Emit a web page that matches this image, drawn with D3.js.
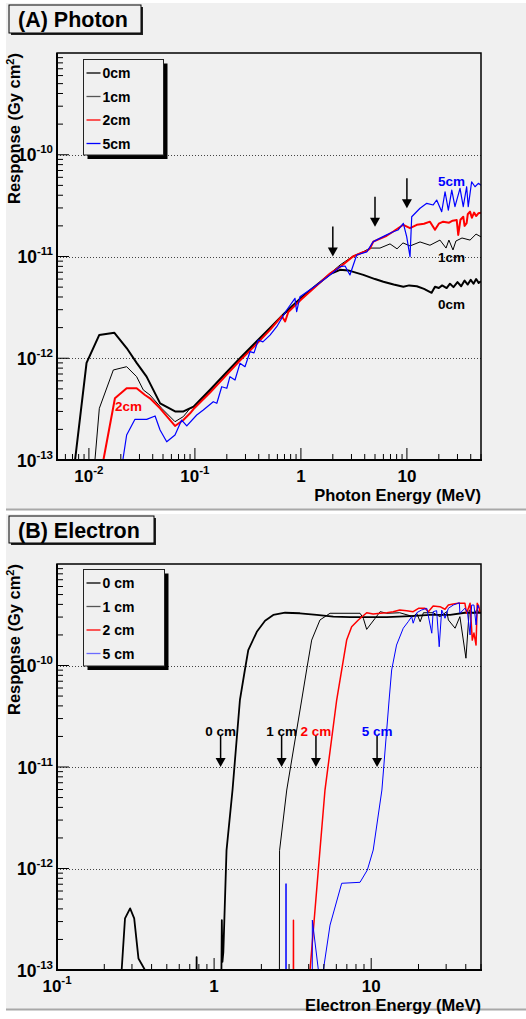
<!DOCTYPE html>
<html><head><meta charset="utf-8">
<script src="https://cdn.jsdelivr.net/npm/d3@7"></script>
<style>
body{margin:0;background:#fff}
svg{display:block}
text{font-family:"Liberation Sans",Arial,Helvetica,sans-serif;font-weight:bold}
</style>
</head><body>
<svg id="c" width="526" height="1019"></svg>
<script>
// ---------------- DATA (energy in MeV, response in Gy cm^2) ----------------
const photonSeriesNames = ["0cm","1cm","2cm","5cm"];
const electronSeriesNames = ["0 cm","1 cm","2 cm","5 cm"];

const photon0cm = [[0.0074,1.0e-13],[0.0095,9.0e-13],[0.0125,1.69e-12],[0.0174,1.78e-12],[0.0227,1.26e-12],[0.0282,9.0e-13],[0.035,6.6e-13],[0.047,3.6e-13],[0.065,3.0e-13],[0.078,3.0e-13],[0.097,3.35e-13],[0.139,4.9e-13],[0.192,7.0e-13],[0.266,1.0e-12],[0.369,1.41e-12],[0.511,1.98e-12],[0.708,2.8e-12],[1.0,3.9e-12],[1.36,5.1e-12],[1.88,6.7e-12],[2.34,7.4e-12],[2.8,7.3e-12],[3.88,6.6e-12],[5.0,6.0e-12],[6.0,5.65e-12],[7.5,5.3e-12],[9.25,5.05e-12],[10.5,5.2e-12],[12.4,5.1e-12],[14.5,4.8e-12],[17.1,4.4e-12],[18.4,5.05e-12],[20,4.9e-12],[21.5,5.2e-12],[23.7,4.9e-12],[25.5,5.4e-12],[27.5,5.0e-12],[30,5.6e-12],[32.5,5.1e-12],[35,5.8e-12],[37.5,5.3e-12],[40,5.9e-12],[42.5,5.4e-12],[45,6.0e-12],[47.5,5.5e-12],[50,5.7e-12]];
const photon1cm = [[0.0114,1.0e-13],[0.01254,3.22e-13],[0.0170,7.67e-13],[0.0227,8.26e-13],[0.0282,6.59e-13],[0.0326,4.88e-13],[0.0377,4.35e-13],[0.0486,3.22e-13],[0.0649,2.38e-13],[0.0778,2.67e-13],[0.090,3.22e-13],[0.097,3.3e-13],[0.139,4.8e-13],[0.192,6.9e-13],[0.266,9.8e-13],[0.369,1.39e-12],[0.511,1.95e-12],[0.708,2.75e-12],[1.0,3.85e-12],[1.36,5.0e-12],[1.88,6.8e-12],[2.34,8.25e-12],[3.10,1.01e-11],[3.85,1.107e-11],[4.48,1.21e-11],[5.57,1.21e-11],[6.93,1.33e-11],[8.07,1.19e-11],[9.18,1.36e-11],[10.7,1.27e-11],[13.3,1.39e-11],[16.5,1.29e-11],[20.5,1.45e-11],[23.4,1.21e-11],[24.9,1.45e-11],[27.2,1.16e-11],[29.0,1.42e-11],[33.1,1.52e-11],[39.4,1.45e-11],[44.9,1.66e-11],[50,1.56e-11]];
const photon2cm = [[0.0137,1.0e-13],[0.0176,4.04e-13],[0.0227,5.07e-13],[0.0282,5.07e-13],[0.0338,4.35e-13],[0.0377,4.04e-13],[0.0469,3.22e-13],[0.0649,2.16e-13],[0.0778,2.47e-13],[0.090,2.88e-13],[0.097,3.17e-13],[0.139,4.6e-13],[0.192,6.6e-13],[0.266,9.5e-13],[0.369,1.33e-12],[0.511,1.9e-12],[0.66,2.6e-12],[0.71,2.3e-12],[0.76,2.85e-12],[1.0,3.75e-12],[1.36,5.0e-12],[1.88,6.8e-12],[2.34,7.9e-12],[3.10,1.0e-11],[3.85,1.1e-11],[4.18,1.13e-11],[4.48,1.2e-11],[4.82,1.4e-11],[6.44,1.6e-11],[7.44,1.76e-11],[9.25,2.05e-11],[10.7,1.9e-11],[12.4,2.05e-11],[14.5,2.1e-11],[16.5,2.2e-11],[18.4,1.83e-11],[20,2.1e-11],[22.0,2.2e-11],[25,2.15e-11],[27,2.25e-11],[29.5,2.28e-11],[30.5,1.63e-11],[32,2.3e-11],[34.0,2.46e-11],[35,2.0e-11],[36.6,2.13e-11],[37.5,2.6e-11],[39.4,2.76e-11],[41,2.4e-11],[43,2.7e-11],[45,2.5e-11],[47.2,2.66e-11],[50,2.7e-11]];
const photon5cm = [[0.0209,1.0e-13],[0.0227,1.76e-13],[0.0272,2.51e-13],[0.0351,2.51e-13],[0.0421,2.71e-13],[0.0469,1.97e-13],[0.0542,1.51e-13],[0.0649,1.76e-13],[0.0750,2.47e-13],[0.0838,2.16e-13],[0.104,2.77e-13],[0.120,3.10e-13],[0.149,3.74e-13],[0.161,3.61e-13],[0.179,5.25e-13],[0.200,5.07e-13],[0.214,6.59e-13],[0.239,6.11e-13],[0.266,8.92e-13],[0.297,8.26e-13],[0.331,1.16e-12],[0.361,1.13e-12],[0.396,1.51e-12],[0.438,1.45e-12],[0.511,1.69e-12],[0.591,2.04e-12],[0.735,2.98e-12],[0.879,3.88e-12],[0.912,2.87e-12],[0.98,4.03e-12],[1.41,5.25e-12],[1.88,6.58e-12],[2.34,7.94e-12],[2.61,8.06e-12],[2.90,6.58e-12],[3.36,1.035e-11],[4.18,1.11e-11],[4.82,1.40e-11],[6.44,1.63e-11],[7.44,1.75e-11],[8.24,1.82e-11],[9.25,2.12e-11],[9.95,1.57e-11],[10.7,9.95e-12],[11.1,2.46e-11],[13.3,2.98e-11],[15.4,3.33e-11],[17.7,3.21e-11],[19.1,3.59e-11],[21.3,2.76e-11],[22.9,4.33e-11],[24.6,2.86e-11],[26.5,4.50e-11],[28.4,3.09e-11],[31.7,4.68e-11],[34.0,3.09e-11],[36.6,4.85e-11],[37.9,3.09e-11],[40.8,5.43e-11],[43.9,4.85e-11],[47.2,5.24e-11],[50,5.0e-11]];

const electron0cm = [[0.24,1e-14],[0.258,1e-13],[0.271,3.23e-13],[0.292,4.05e-13],[0.310,3.23e-13],[0.330,1.30e-13],[0.363,1e-13],[0.38,1e-14],[0.77,1e-14],[0.774,1.34e-13],[0.778,1e-14],[1.10,1e-14],[1.12,3.1e-13],[1.13,1.2e-13],[1.145,1.5e-13],[1.20,1.52e-12],[1.31,5.93e-12],[1.46,4.57e-11],[1.57,9.03e-11],[1.65,1.42e-10],[1.87,2.15e-10],[2.11,2.76e-10],[2.38,3.15e-10],[2.83,3.31e-10],[3.52,3.27e-10],[4.50,3.15e-10],[5.74,3.03e-10],[7.33,2.99e-10],[9.36,2.99e-10],[12.6,2.99e-10],[17.7,3.07e-10],[23.7,3.15e-10],[31.8,3.15e-10],[39.5,3.31e-10],[47.9,3.31e-10],[50,3.3e-10]];
const electron1cm = [[2.60,1e-14],[2.61,1.5e-12],[2.90,5.93e-12],[3.61,4.57e-11],[3.88,9.03e-11],[4.18,1.78e-10],[4.72,2.81e-10],[5.47,3.27e-10],[8.49,3.27e-10],[8.91,2.92e-10],[9.36,2.27e-10],[10.6,2.92e-10],[11.4,3.39e-10],[12.6,3.27e-10],[15.2,3.31e-10],[18.5,3.03e-10],[19.5,3.27e-10],[20.5,2.70e-10],[21.5,3.31e-10],[24.8,3.31e-10],[27.4,3.03e-10],[30.3,3.39e-10],[31.0,2.81e-10],[34.2,2.33e-10],[36.7,3.03e-10],[40.1,1.18e-10],[42.1,3.52e-10],[44.7,3.27e-10],[47.0,3.52e-10],[49.3,3.35e-10]];
const electron2cm = [[3.19,1e-14],[3.20,3.1e-13],[3.21,1e-14],[4.07,1e-14],[4.08,1e-13],[4.72,1.52e-12],[5.08,5.93e-12],[6.03,4.57e-11],[6.49,9.03e-11],[6.98,1.78e-10],[7.51,2.41e-10],[8.28,2.81e-10],[9.36,3.31e-10],[10.3,3.22e-10],[11.4,3.27e-10],[12.6,3.31e-10],[13.8,3.39e-10],[15.2,3.52e-10],[16.8,3.47e-10],[18.5,3.39e-10],[20.0,3.66e-10],[22.0,3.66e-10],[23.1,3.39e-10],[24.8,3.86e-10],[27.4,3.80e-10],[29.5,3.58e-10],[31.0,3.94e-10],[33.3,4.04e-10],[35.8,4.10e-10],[39.5,4.10e-10],[40.5,3.27e-10],[42.6,4.10e-10],[44.0,1.78e-10],[45.1,2.09e-10],[46.5,1.59e-10],[47.3,4.10e-10],[48.3,3.86e-10],[49.3,3.35e-10]];
const electron5cm = [[2.86,1e-14],[2.87,7.1e-13],[2.88,1e-14],[4.21,1e-14],[4.22,3.1e-13],[4.61,1e-13],[4.62,1e-14],[4.95,1e-14],[4.96,1e-13],[5.47,2.77e-13],[6.49,7.15e-13],[8.49,7.31e-13],[9.45,9.66e-13],[10.3,1.52e-12],[11.7,5.93e-12],[13.0,4.57e-11],[13.5,9.03e-11],[14.5,1.59e-10],[16.0,2.33e-10],[17.2,2.70e-10],[18.1,3.03e-10],[18.5,2.61e-10],[19.5,3.31e-10],[20.9,3.52e-10],[22.6,3.66e-10],[24.3,2.08e-10],[24.8,3.39e-10],[26.1,3.47e-10],[27.1,1.53e-10],[28.1,3.52e-10],[29.5,2.92e-10],[31.0,3.66e-10],[33.3,3.94e-10],[36.4,4.16e-10],[36.7,3.27e-10],[39.5,3.66e-10],[41.0,3.35e-10],[42.6,2.0e-10],[43.6,3.94e-10],[45.1,3.94e-10],[46.5,2.51e-10],[47.6,3.94e-10],[48.6,3.66e-10]];

// axis ranges and tick labels
const photonEnergyRange = [0.005, 50];
const electronEnergyRange = [0.1, 50];
const responseRange = [1e-13, 1e-9];
const photonXTicks = [[0.01,"10","-2"],[0.1,"10","-1"],[1,"1",""],[10,"10",""]];
const electronXTicks = [[0.1,"10","-1"],[1,"1",""],[10,"10",""]];
const yTicks = [[1e-13,"-13"],[1e-12,"-12"],[1e-11,"-11"],[1e-10,"-10"]];

// annotations (data coordinates)
const photonArrows = [[2,1.0e-11],[5,1.96e-11],[10,2.98e-11]];
const photonCurveLabels = [["5cm",19.6,4.93e-11,"#0000ff"],["1cm",19.6,8.93e-12,"#000000"],["0cm",19.6,3.05e-12,"#000000"],["2cm",0.0176,3.03e-13,"#ff0000"]];
const electronArrows = [["0 cm",1.10,1e-11,"#000000"],["1 cm",2.69,1e-11,"#000000"],["2 cm",4.45,1e-11,"#ff0000"],["5 cm",10.9,1e-11,"#0000ff"]];

// ---------------- DRAWING ----------------
const svg = d3.select("#c");

function panel(p){
  const g = svg.append("g");
  g.append("rect").attr("x",6).attr("y",p.padY).attr("width",520).attr("height",p.padH).attr("fill","#f0f0f0");
  g.append("line").attr("x1",6).attr("x2",526).attr("y1",p.padY+p.padH+0.5).attr("y2",p.padY+p.padH+0.5).attr("stroke","#a8a8a8").attr("stroke-width",2);

  const L=57,R=481,T=p.top,B=p.bottom;
  const x = d3.scaleLog().domain(p.xDomain).range([L,R]);
  const y = d3.scaleLog().domain(responseRange).range([B,T]);

  [1e-12,1e-11,1e-10].forEach(v=>{
    g.append("line").attr("x1",L).attr("x2",R).attr("y1",Math.round(y(v))+0.5).attr("y2",Math.round(y(v))+0.5)
     .attr("stroke","#444").attr("stroke-width",1).attr("stroke-dasharray","1,2");
  });

  const cid = "clip"+p.id;
  svg.append("clipPath").attr("id",cid).append("rect").attr("x",L).attr("y",T).attr("width",R-L).attr("height",B-T);
  const cg = g.append("g").attr("clip-path",`url(#${cid})`);
  const line = d3.line().x(d=>x(d[0])).y(d=>y(d[1]));
  p.series.forEach(s=>{
    cg.append("path").attr("d",line(s.data)).attr("fill","none").attr("stroke",s.color)
      .attr("stroke-width",s.w).attr("stroke-linejoin","round");
  });

  g.append("rect").attr("x",L).attr("y",T).attr("width",R-L).attr("height",B-T).attr("fill","none").attr("stroke","#000").attr("stroke-width",1.5);
  g.append("line").attr("x1",L).attr("x2",L).attr("y1",T).attr("y2",B+1).attr("stroke","#000").attr("stroke-width",2);
  g.append("line").attr("x1",L-1).attr("x2",R+1).attr("y1",B).attr("y2",B).attr("stroke","#000").attr("stroke-width",2);

  for(let e=-13;e<=-10;e++){
    for(let k=1;k<=9;k++){
      const v=k*Math.pow(10,e);
      const yy=y(v);
      if(yy<T-0.5||yy>B+0.5) continue;
      const len = k===1?12:6;
      g.append("line").attr("x1",L).attr("x2",L+len).attr("y1",yy).attr("y2",yy).attr("stroke","#000").attr("stroke-width",1);
    }
  }
  const lo=Math.floor(Math.log10(p.xDomain[0])), hi=Math.ceil(Math.log10(p.xDomain[1]));
  for(let e=lo;e<=hi;e++){
    for(let k=1;k<=9;k++){
      const v=k*Math.pow(10,e);
      if(v<p.xDomain[0]*0.999||v>p.xDomain[1]*1.001) continue;
      const xx=x(v);
      const len=k===1?12:6;
      g.append("line").attr("x1",xx).attr("x2",xx).attr("y1",B).attr("y2",B-len).attr("stroke","#000").attr("stroke-width",1);
    }
  }
  yTicks.forEach(([v,ex])=>{
    const t=g.append("text").attr("x",53).attr("y",y(v)+6.5).attr("text-anchor","end").attr("font-size",17.5);
    t.append("tspan").text("10");
    t.append("tspan").attr("dy",-8).attr("font-size",11.5).text(ex);
  });
  p.xTicks.forEach(([v,base,ex])=>{
    const t=g.append("text").attr("x",x(v)).attr("y",B+22).attr("text-anchor","middle").attr("font-size",17);
    t.append("tspan").text(base);
    if(ex) t.append("tspan").attr("dy",-8).attr("font-size",11.5).text(ex);
  });
  g.append("text").attr("x",R).attr("y",B+40.5).attr("text-anchor","end").attr("font-size",16.5).text(p.xTitle);
  const yt=g.append("text").attr("transform",`translate(20,${T}) rotate(-90)`).attr("text-anchor","end").attr("font-size",16.5);
  yt.append("tspan").text("Response (Gy cm");
  yt.append("tspan").attr("dy",-6).attr("font-size",11).text("2");
  yt.append("tspan").attr("dy",6).text(")");

  const tb=p.titleBox;
  g.append("rect").attr("x",tb[0]+2).attr("y",tb[1]+2).attr("width",tb[2]).attr("height",tb[3]).attr("fill","#222");
  g.append("rect").attr("x",tb[0]).attr("y",tb[1]).attr("width",tb[2]).attr("height",tb[3]).attr("fill","#f0f0f0").attr("stroke","#000").attr("stroke-width",1);
  g.append("text").attr("x",tb[0]+9).attr("y",tb[1]+21.5).attr("font-size",21.5).text(p.title);

  const lg=p.legend;
  g.append("rect").attr("x",lg.x+4).attr("y",lg.y+4).attr("width",lg.w).attr("height",lg.h).attr("fill","#000");
  g.append("rect").attr("x",lg.x).attr("y",lg.y).attr("width",lg.w).attr("height",lg.h).attr("fill","#f0f0f0").attr("stroke","#222").attr("stroke-width",1);
  lg.names.forEach((n,i)=>{
    const yy=lg.y+13.5+i*23.5;
    g.append("line").attr("x1",lg.x+3).attr("x2",lg.x+17).attr("y1",yy).attr("y2",yy).attr("stroke",lg.colors[i]).attr("stroke-width",1.3);
    g.append("text").attr("x",lg.x+19).attr("y",yy+5).attr("font-size",14).text(n);
  });
  return {g,x,y};
}

function arrow(g,xx,tipY,len){
  g.append("line").attr("x1",xx).attr("x2",xx).attr("y1",tipY-len).attr("y2",tipY-7).attr("stroke","#000").attr("stroke-width",1.5);
  g.append("path").attr("d",`M${xx-5},${tipY-9}L${xx+5},${tipY-9}L${xx},${tipY}Z`).attr("fill","#000");
}

const A = panel({
  id:"A", padY:3, padH:506, top:53, bottom:460, xDomain:photonEnergyRange, xTicks:photonXTicks,
  xTitle:"Photon Energy (MeV)", title:"(A) Photon", titleBox:[9,5,132,28],
  legend:{x:83.5,y:59.5,w:80,h:95.5,names:photonSeriesNames,colors:["#000","#555","#f00","#00f"]},
  series:[
    {data:photon0cm,color:"#000",w:2},
    {data:photon1cm,color:"#000",w:1},
    {data:photon2cm,color:"#ff0000",w:2},
    {data:photon5cm,color:"#0000ff",w:1.2}
  ]
});
photonArrows.forEach(([e,r])=>arrow(A.g,A.x(e),A.y(r),30));
photonCurveLabels.forEach(([t,e,r,c])=>{
  A.g.append("text").attr("x",A.x(e)).attr("y",A.y(r)).attr("font-size",13.5).attr("fill",c).text(t);
});

const Bp = panel({
  id:"B", padY:514, padH:495, top:564, bottom:970, xDomain:electronEnergyRange, xTicks:electronXTicks,
  xTitle:"Electron Energy (MeV)", title:"(B) Electron", titleBox:[9,516,145,27],
  legend:{x:83.5,y:569.5,w:81,h:96.5,names:electronSeriesNames,colors:["#000","#555","#f00","#6b6bff"]},
  series:[
    {data:electron0cm,color:"#000",w:1.8},
    {data:electron1cm,color:"#000",w:1},
    {data:electron2cm,color:"#ff0000",w:1.5},
    {data:electron5cm,color:"#0000ff",w:1}
  ]
});
electronArrows.forEach(([t,e,r,c])=>{
  const xx=Bp.x(e), ty=Bp.y(r);
  arrow(Bp.g,xx,ty,31);
  Bp.g.append("text").attr("x",xx).attr("y",ty-31).attr("text-anchor","middle").attr("font-size",13.5).attr("fill",c).text(t);
});
</script>
</body></html>
